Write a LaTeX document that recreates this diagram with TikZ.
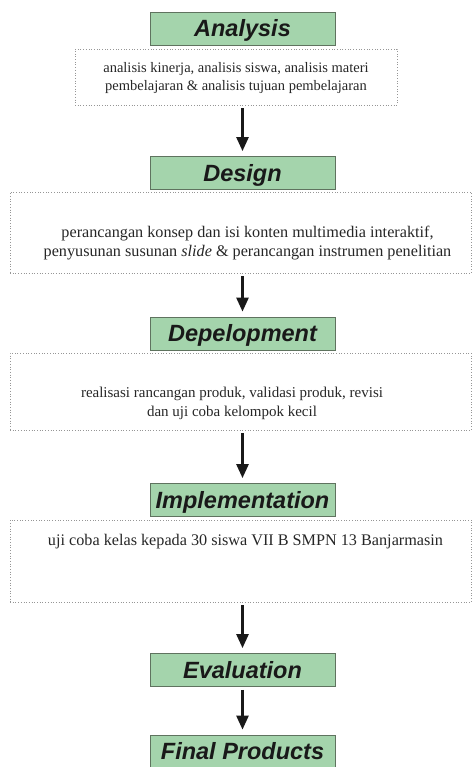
\documentclass[tikz,border=0pt]{standalone}
\usepackage{fontspec}
\setmainfont{Liberation Serif}
\newfontfamily\headfont{Liberation Sans}
\usetikzlibrary{arrows.meta}
\definecolor{headfill}{RGB}{164,212,172}
\definecolor{headline}{RGB}{95,115,95}
\definecolor{dotline}{RGB}{150,150,150}
\begin{document}
\begin{tikzpicture}[x=1pt,y=1pt,
  headbox/.style={draw=headline,line width=0.8pt,fill=headfill,minimum width=185pt,minimum height=33pt,inner sep=0pt,font=\headfont\fontsize{23.5}{26}\selectfont\bfseries\itshape,text=black!90,text height=16.8pt,text depth=0pt},
  dotbox/.style={draw=dotline,dotted,line width=0.7pt,inner sep=0pt},
  bodytext/.style={align=center,text=black!85,inner sep=0pt},
  flow/.style={-{Triangle[width=12pt,length=14pt]},line width=2.6pt,black!90,shorten <=3pt,shorten >=5pt}]
\useasboundingbox (0,0) rectangle (472,-767);
% heading boxes
\node[headbox] (an) at (242.5,-28.5) {Analysis};
\node[headbox] (de) at (242.5,-173) {Design};
\node[headbox] (dp) at (242.5,-333.5) {Depelopment};
\node[headbox] (im) at (242.5,-500) {Implementation};
\node[headbox] (ev) at (242.5,-670) {Evaluation};
\node[headbox] (fp) at (242.5,-751.5) {Final Products};
% dotted boxes
\node[dotbox,minimum width=322pt,minimum height=56pt] (b1) at (236,-77) {};
\node[dotbox,minimum width=461pt,minimum height=81pt] (b2) at (240.5,-232.5) {};
\node[dotbox,minimum width=461pt,minimum height=77pt] (b3) at (240.5,-391.5) {};
\node[dotbox,minimum width=461pt,minimum height=82pt] (b4) at (240.5,-561) {};
% texts
\node[bodytext,font=\fontsize{14.5}{18}\selectfont] (t1) at (236,-78) {analisis kinerja, analisis siswa, analisis materi\\pembelajaran \& analisis tujuan pembelajaran};
\node[bodytext,font=\fontsize{16.2}{18.5}\selectfont] (t2) at (247.5,-243) {perancangan konsep dan isi konten multimedia interaktif,\\penyusunan susunan \textit{slide} \& perancangan instrumen penelitian};
\node[bodytext,font=\fontsize{15}{19}\selectfont] (t3) at (232,-403) {realisasi rancangan produk, validasi produk, revisi\\dan uji coba kelompok kecil};
\node[bodytext,font=\fontsize{16.2}{19}\selectfont] (t4) at (245.5,-542) {uji coba kelas kepada 30 siswa VII B SMPN 13 Banjarmasin};
% arrows
\draw[flow] (b1.south -| an.south) -- (de.north);
\draw[flow] (b2.south -| an.south) -- (dp.north);
\draw[flow] (b3.south -| an.south) -- (im.north);
\draw[flow] (b4.south -| an.south) -- (ev.north);
\draw[flow] (ev.south) -- (fp.north);
\end{tikzpicture}
\end{document}
